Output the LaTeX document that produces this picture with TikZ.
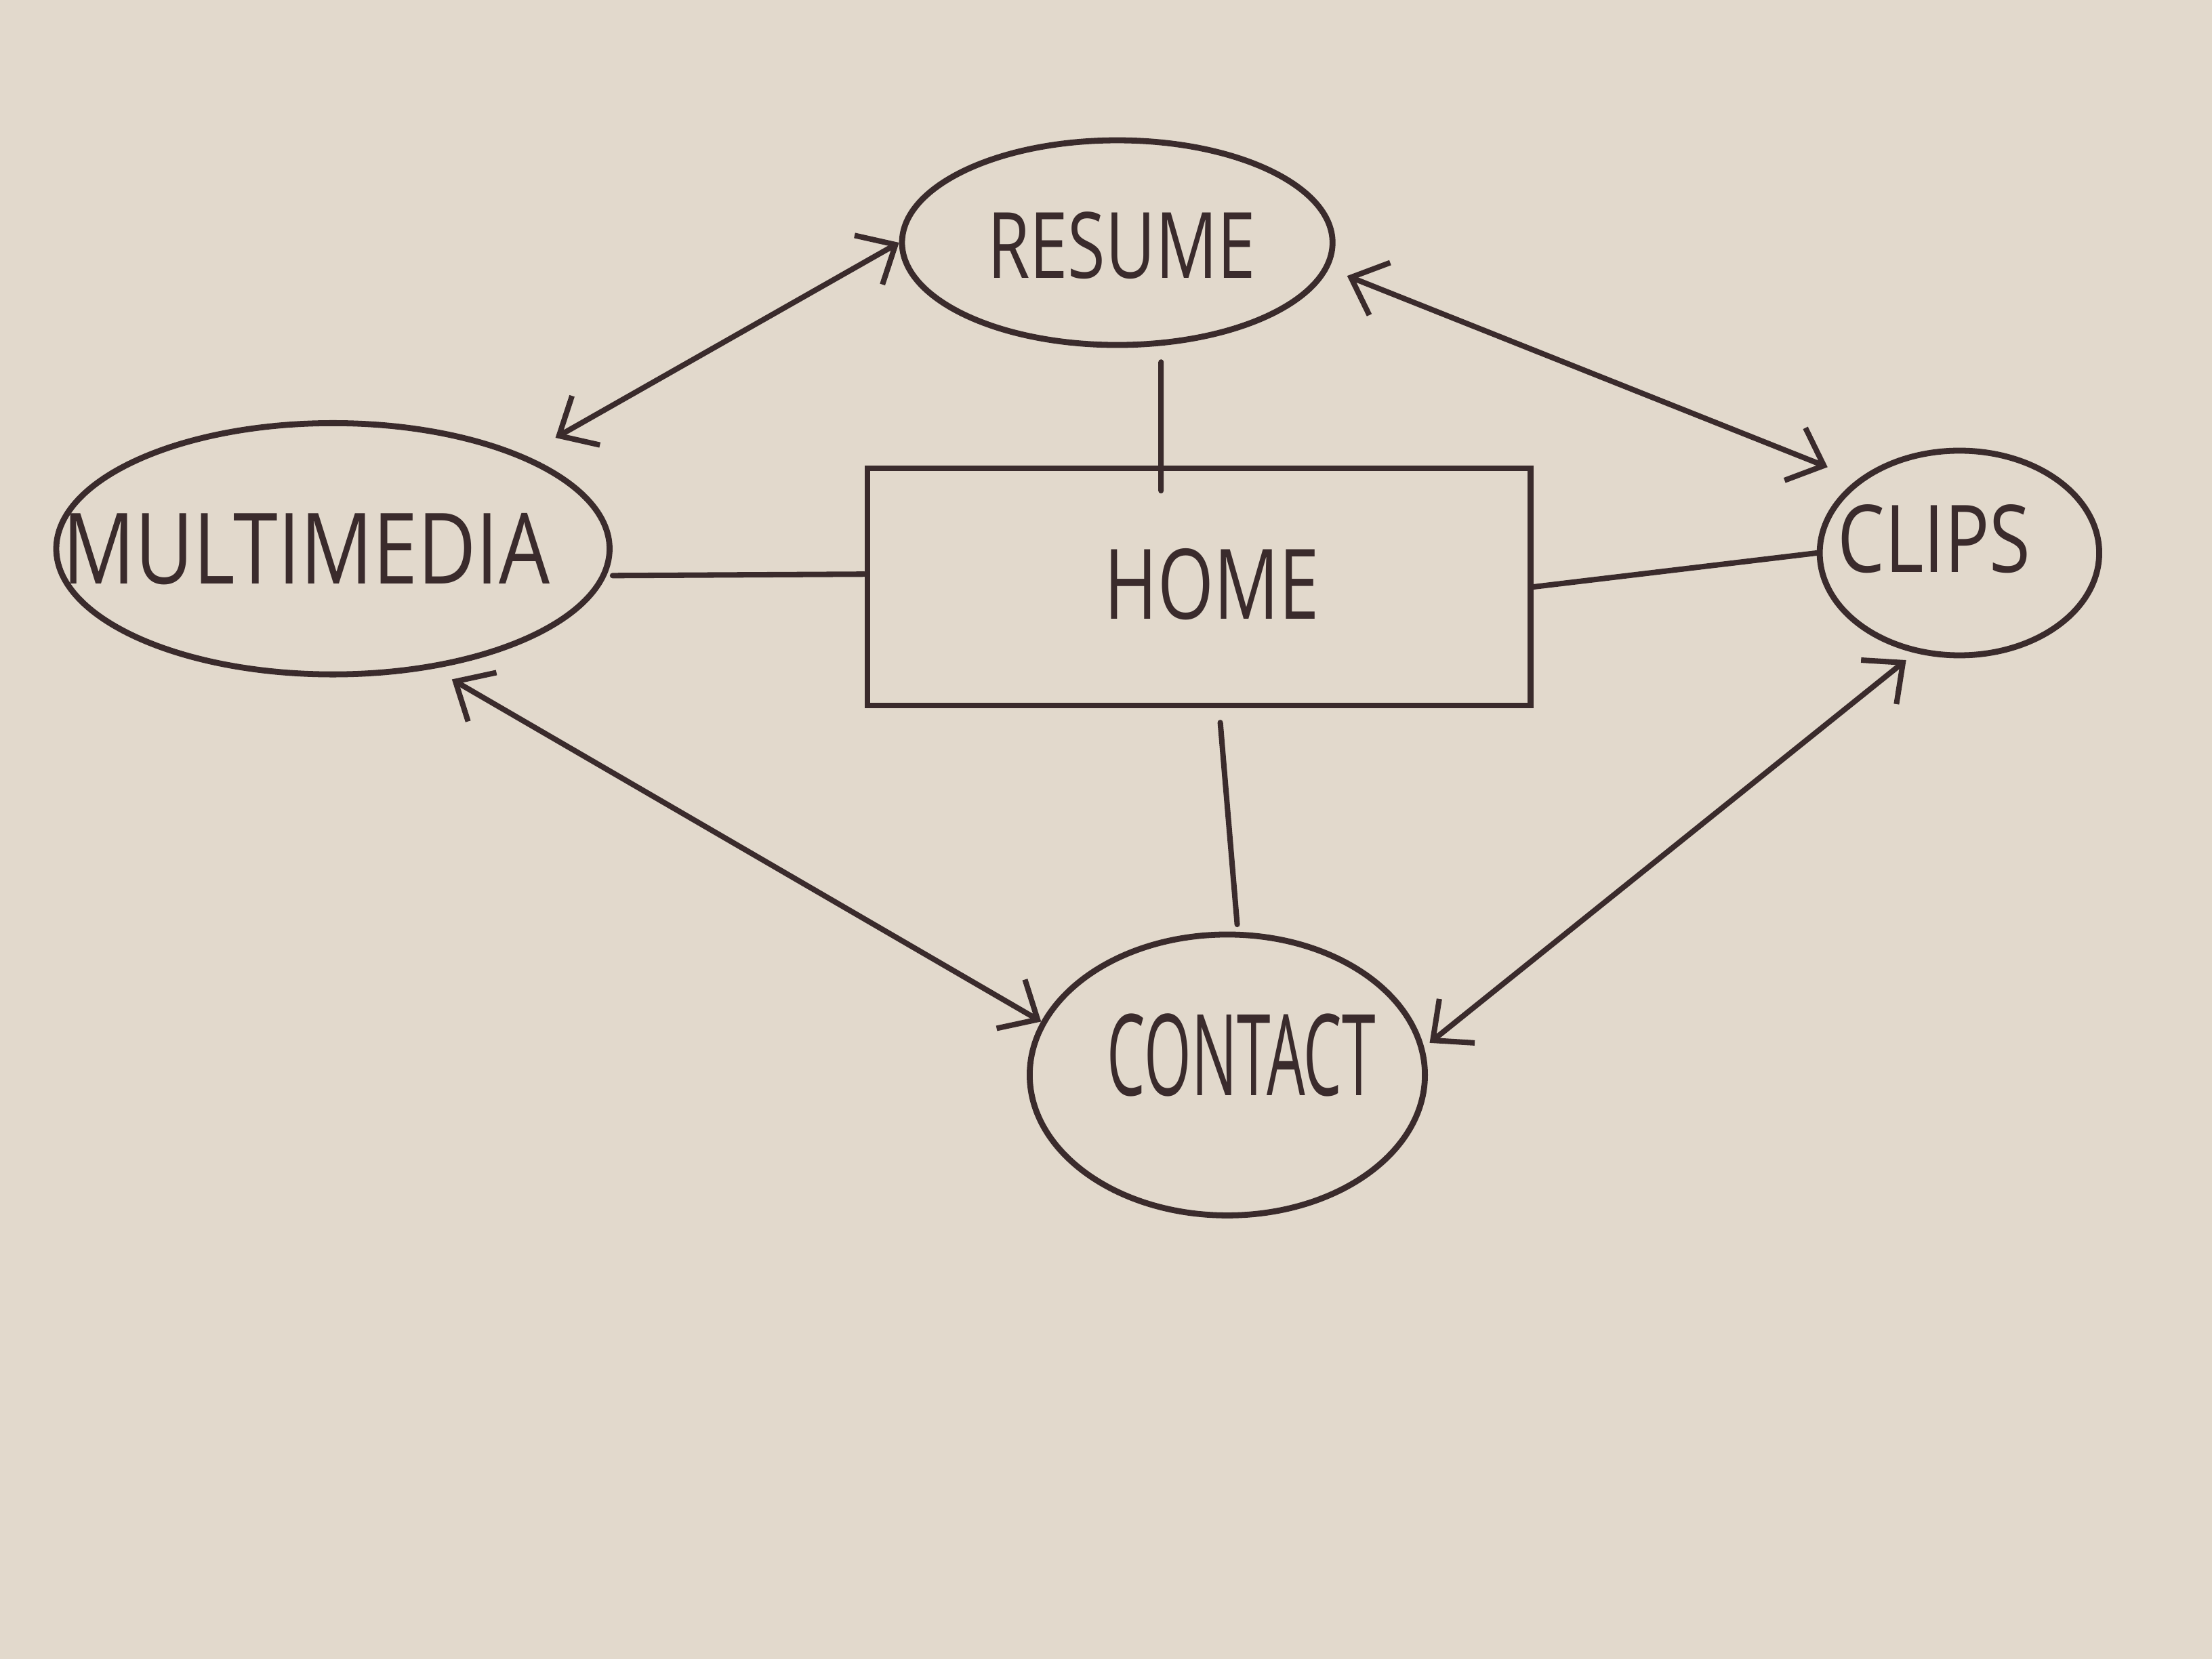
\documentclass[tikz,border=0pt]{standalone}
\usepackage{fontspec}
\setmainfont{Open Sans}
\usetikzlibrary{arrows.meta,shapes.geometric}
\definecolor{ink}{HTML}{3A2B2C}
\definecolor{paper}{HTML}{E2D9CC}
\begin{document}
\begin{tikzpicture}[x=0.01cm,y=-0.01cm,
  bubble/.style={draw=ink, line width=1.2pt, ellipse, inner sep=0pt},
  homebox/.style={draw=ink, line width=1.2pt, rectangle, inner sep=0pt},
  lbl/.style={text=ink, inner sep=0pt},
  link/.style={draw=ink, line width=1.1pt, line cap=round},
  dbl/.style={link, {Straight Barb[length=2.2mm,width=4mm]}-{Straight Barb[length=2.2mm,width=4mm]}}]
\fill[paper] (0,0) rectangle (1568,1176);
\useasboundingbox (0,0) rectangle (1568,1176);
% shapes
\node[bubble, minimum width=3.05cm, minimum height=1.45cm] (res) at (792,172) {};
\node[bubble, minimum width=3.92cm, minimum height=1.78cm] (mm) at (236,389) {};
\node[homebox, minimum width=4.7cm, minimum height=1.68cm] (home) at (850,416) {};
\node[bubble, minimum width=1.98cm, minimum height=1.45cm] (clips) at (1389,392) {};
\node[bubble, minimum width=2.8cm, minimum height=1.99cm] (contact) at (870,762) {};
% texts
\node[lbl] (restext) at (795,174) {\resizebox{1.9cm}{0.47cm}{RESUME}};
\node[lbl] (mmtext) at (217,389) {\resizebox{3.45cm}{0.5cm}{MULTIMEDIA}};
\node[lbl] (hometext) at (859,414) {\resizebox{1.52cm}{0.5cm}{HOME}};
\node[lbl] (clipstext) at (1371,382) {\resizebox{1.37cm}{0.48cm}{CLIPS}};
\node[lbl] (contacttext) at (880,748) {\resizebox{1.9cm}{0.58cm}{CONTACT}};
% double arrows
\draw[dbl, shorten >=0.25cm] (res.180) -- (mm.26);
\draw[dbl, shorten <=0.14cm, shorten >=0.23cm] (res.-7) -- (clips.144);
\draw[dbl, shorten <=0.15cm] (mm.-50) -- (contact.164);
\draw[dbl, shorten <=0.05cm, shorten >=0.08cm] (contact.8) -- (clips.246);
% plain links to home
\draw[link] ([xshift=0.31cm,yshift=-0.1cm]res.south) -- ([xshift=-0.27cm,yshift=-0.18cm]home.north);
\draw[link] ([yshift=-0.19cm]mm.east) -- ([yshift=0.09cm]home.west);
\draw[link] (home.east) -- (clips.west);
\draw[link] ([xshift=0.15cm,yshift=-0.1cm]home.south) -- ([xshift=0.07cm,yshift=0.05cm]contact.north);
\end{tikzpicture}
\end{document}
